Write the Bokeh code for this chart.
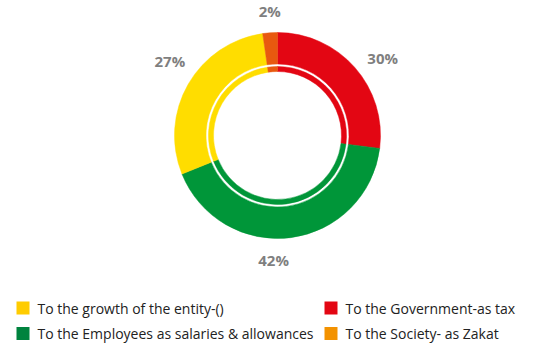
import math
from bokeh.plotting import figure
from bokeh.models import Range1d, ColumnDataSource
from bokeh.core.properties import value
from bokeh.embed import file_html
from bokeh.resources import INLINE

# ---- data ----
categories = ["To the Government-as tax",
              "To the Employees as salaries & allowances",
              "To the growth of the entity-()",
              "To the Society- as Zakat"]
shares = [27.0, 41.9, 28.8, 2.3]          # slice sizes read from the ring
label_pct = [30, 42, 27, 2]               # printed labels
slice_colors = ["#E30613", "#009639", "#FFDD00", "#E8590F"]
legend_colors = ["#E30613", "#00833E", "#FFCC00", "#F39200"]
# legend order (row-major): growth, Government, Employees, Society
legend_order = [2, 0, 1, 3]

W, H = 560, 347
p = figure(width=W, height=H, output_backend="svg", toolbar_location=None,
           x_range=Range1d(0, W), y_range=Range1d(0, H), min_border=0)
p.axis.visible = False
p.grid.visible = False
p.outline_line_color = None
p.background_fill_color = "white"

cx, cy = 277, H - 135
R_out, R_band_in, R_thin_out, R_thin_in = 103, 71.5, 69, 64

tot = sum(shares)
starts, ends = [], []
acc = 0.0
for s in shares:
    a0 = acc / tot * 2 * math.pi
    acc += s
    a1 = acc / tot * 2 * math.pi
    starts.append(math.pi / 2 - a0)
    ends.append(math.pi / 2 - a1)

src = ColumnDataSource(dict(x=[cx] * 4, y=[cy] * 4, s=starts, e=ends, c=slice_colors))
p.annular_wedge(x="x", y="y", inner_radius=R_band_in, outer_radius=R_out,
                inner_radius_units="screen", outer_radius_units="screen",
                start_angle="s", end_angle="e", direction="clock",
                fill_color="c", line_color="c", line_width=0.5, source=src)
p.annular_wedge(x="x", y="y", inner_radius=R_thin_in, outer_radius=R_thin_out,
                inner_radius_units="screen", outer_radius_units="screen",
                start_angle="s", end_angle="e", direction="clock",
                fill_color="c", line_color="c", line_width=0.5, source=src)

# ---- percentage labels (centered, pushed out by half their box) ----
ltot = sum(label_pct)
lx, ly, lt = [], [], []
acc = 0.0
r0 = 118
for v in label_pct:
    mid = (acc + v / 2) / ltot * 2 * math.pi
    acc += v
    txt = f"{v}%"
    w_est = 8.5 * len(txt) + 5
    h_est = 13
    sn, cs = math.sin(mid), math.cos(mid)
    r = r0 + math.hypot(sn * w_est / 2, cs * h_est / 2)
    lx.append(cx + r * sn)
    ly.append(cy + r * cs)
    lt.append(txt)
p.text(x="x", y="y", text="t", text_align="center", text_baseline="middle",
       source=ColumnDataSource(dict(x=lx, y=ly, t=lt)),
       text_font=value("Open Sans"), text_font_style="bold",
       text_font_size="15px", text_color="#7F7F7F")

# ---- legend ----
col_x = [22.5, 330.5]
row_y = [H - 307.5, H - 333]
sq_x, sq_y, sq_c, tx, ty, tt = [], [], [], [], [], []
for k, idx in enumerate(legend_order):
    col, row = k % 2, k // 2
    sq_x.append(col_x[col]); sq_y.append(row_y[row]); sq_c.append(legend_colors[idx])
    tx.append(col_x[col] + 14.5); ty.append(row_y[row]); tt.append(categories[idx])
p.scatter(x=sq_x, y=sq_y, marker="square", size=13, fill_color=sq_c, line_color=None)
p.text(x=tx, y=ty, text=tt, text_align="left", text_baseline="middle",
       text_font=value("Open Sans"), text_font_size="14px", text_color="#222222")

open("out.html", "w").write(file_html(p, INLINE))
